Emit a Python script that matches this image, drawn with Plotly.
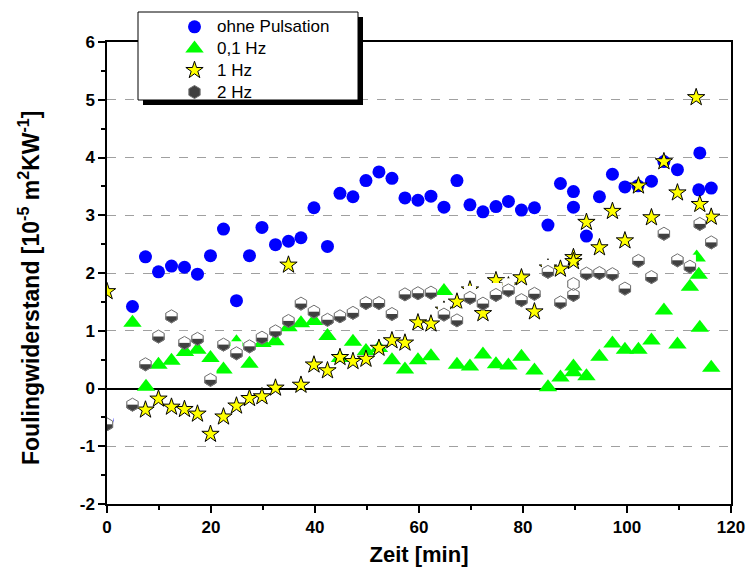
import plotly.graph_objects as go

# ---------------- data ----------------
x_ohne = [0, 4.9, 7.4, 9.9, 12.4, 14.9, 17.4, 19.9, 22.4, 24.9, 27.4, 29.8, 32.4, 34.9, 37.3, 39.8,
          42.4, 44.8, 47.3, 49.8, 52.3, 54.8, 57.3, 59.8, 62.3, 64.8, 67.3, 69.8, 72.3, 74.8, 77.2,
          79.7, 82.2, 84.8, 87.2, 89.7, 89.7, 92.2, 94.7, 97.2, 99.6, 102.1, 104.7, 107.1, 109.7,
          114.0, 113.8, 116.2]
y_ohne = [-0.55, 1.42, 2.28, 2.02, 2.12, 2.10, 1.98, 2.30, 2.76, 1.52, 2.30, 2.79, 2.49, 2.55, 2.61,
          3.13, 2.46, 3.38, 3.32, 3.60, 3.75, 3.64, 3.30, 3.26, 3.33, 3.14, 3.60, 3.18, 3.06, 3.15,
          3.24, 3.09, 3.13, 2.83, 3.55, 3.41, 3.14, 2.64, 3.32, 3.71, 3.49, 3.51, 3.59, 3.93, 3.79,
          4.08, 3.44, 3.47]

x_01 = [4.9, 7.5, 9.9, 12.4, 15.0, 17.4, 19.9, 22.4, 24.9, 27.4, 29.9, 32.4, 34.9, 37.3, 39.8, 42.4,
        44.8, 47.3, 49.8, 52.3, 54.8, 57.3, 59.8, 62.3, 64.8, 67.3, 69.8, 72.3, 74.8, 77.2, 79.7,
        82.2, 84.8, 87.2, 89.7, 89.7, 92.2, 94.7, 97.2, 99.6, 102.2, 104.7, 107.1, 109.7, 112.1,
        113.4, 113.8, 114.0, 116.2]
y_01 = [1.14, 0.03, 0.41, 0.48, 0.63, 0.67, 0.53, 0.33, 0.80, 0.43, 0.79, 0.82, 1.06, 1.13, 1.17, 0.91,
        0.53, 0.81, 0.65, 0.70, 0.49, 0.33, 0.49, 0.56, 1.69, 0.41, 0.38, 0.59, 0.42, 0.40, 0.55,
        0.31, 0.02, 0.19, 0.38, 0.28, 0.21, 0.55, 0.78, 0.67, 0.67, 0.83, 1.35, 0.76, 1.76,
        2.27, 1.97, 1.05, 0.36]

x_1 = [0, 7.4, 9.9, 12.4, 14.9, 17.4, 19.9, 22.4, 24.9, 27.4, 29.8, 32.4, 34.9, 37.3, 39.8, 42.4,
       44.8, 47.3, 49.8, 52.3, 54.8, 57.3, 59.8, 62.3, 64.8, 67.3, 69.8, 72.3, 74.8, 77.2, 79.7,
       82.2, 84.8, 87.2, 89.7, 89.7, 92.2, 94.7, 97.2, 99.6, 102.2, 104.7, 107.1, 109.7, 113.3,
       114.0, 116.2]
y_1 = [1.68, -0.37, -0.18, -0.32, -0.36, -0.44, -0.79, -0.49, -0.30, -0.17, -0.14, 0.01, 2.14, 0.06,
       0.41, 0.31, 0.54, 0.47, 0.51, 0.70, 0.83, 0.79, 1.14, 1.12, 1.36, 1.50, 1.71, 1.30, 1.87,
       1.78, 1.92, 1.33, 2.09, 2.07, 2.27, 2.20, 2.88, 2.44, 3.07, 2.56, 3.51, 2.96, 3.93, 3.39,
       5.04, 3.19, 2.97]

x_2 = [0, 4.9, 7.4, 9.9, 12.4, 14.9, 17.4, 19.9, 22.4, 24.9, 27.4, 29.8, 32.4, 34.9, 37.3, 39.8,
       42.4, 44.8, 47.3, 49.8, 52.3, 54.8, 57.3, 59.8, 62.3, 64.8, 67.3, 69.8, 72.3, 74.8, 77.2,
       79.7, 82.2, 84.8, 87.2, 89.7, 89.7, 92.2, 94.7, 97.2, 99.6, 102.2, 104.7, 107.1, 109.7,
       112.1, 114.0, 116.2]
y_2 = [-0.62, -0.28, 0.42, 0.90, 1.25, 0.79, 0.86, 0.15, 0.76, 0.61, 0.73, 0.88, 0.99, 1.17, 1.47,
       1.33, 1.19, 1.25, 1.31, 1.48, 1.48, 1.29, 1.63, 1.65, 1.66, 1.28, 1.18, 1.57, 1.47, 1.62,
       1.70, 1.53, 1.64, 2.02, 1.49, 1.81, 1.62, 1.99, 2.00, 1.98, 1.73, 2.21, 1.93, 2.68, 2.22,
       2.11, 2.85, 2.53]

names = ["ohne Pulsation", "0,1 Hz", "1 Hz", "2 Hz"]
x_ticks = [0, 20, 40, 60, 80, 100, 120]
y_ticks = [-2, -1, 0, 1, 2, 3, 4, 5, 6]
x_title = "Zeit [min]"
y_title = "Foulingwiderstand [10<sup>-5</sup> m<sup>2</sup>KW<sup>-1</sup>]"

FONT = "Arial, Liberation Sans, sans-serif"


def leg_name(s):
    return f'<span style="font-size:17px">{s}</span>'


fig = go.Figure()
fig.add_trace(go.Scatter(x=x_ohne, y=y_ohne, mode="markers", name=leg_name(names[0]),
                         marker=dict(symbol="circle", size=13, color="#0000ff", line=dict(width=0))))
fig.add_trace(go.Scatter(x=x_01, y=y_01, mode="markers", name=leg_name(names[1]),
                         marker=dict(symbol="triangle-up", size=16, color="#00ff00", line=dict(width=0))))
fig.add_trace(go.Scatter(x=x_1, y=y_1, mode="markers", name=leg_name(names[2]),
                         marker=dict(symbol="star", size=13, color="#ffff00",
                                     line=dict(width=1, color="#000000"))))
# half-filled hexagon: dark hexagon, white lower half, grey outline
fig.add_trace(go.Scatter(x=x_2, y=y_2, mode="markers", name=leg_name(names[3]), legendgroup="h",
                         marker=dict(symbol="hexagon", size=13, color="#404040",
                                     line=dict(width=1, color="#707070"))))
fig.add_trace(go.Scatter(x=x_2, y=y_2, mode="markers", showlegend=False, legendgroup="h",
                         hoverinfo="skip",
                         marker=dict(symbol="square", size=12, color="#ffffff", angle=180,
                                     standoff=6, line=dict(width=0))))
fig.add_trace(go.Scatter(x=x_2, y=y_2, mode="markers", showlegend=False, legendgroup="h",
                         hoverinfo="skip",
                         marker=dict(symbol="hexagon-open", size=13, color="#707070",
                                     line=dict(width=1, color="#707070"))))


def px2paper_x(p):
    return (p - 107) / 624.0


def px2paper_y(p):
    return (504 - p) / 462.0


# legend frame with shadow
fig.add_shape(type="rect", xref="paper", yref="paper", layer="above",
              x0=px2paper_x(143), x1=px2paper_x(363), y0=px2paper_y(105), y1=px2paper_y(17),
              fillcolor="#000000", line=dict(width=0))
fig.add_shape(type="rect", xref="paper", yref="paper", layer="above",
              x0=px2paper_x(138), x1=px2paper_x(358), y0=px2paper_y(100), y1=px2paper_y(12),
              fillcolor="#ffffff", line=dict(width=1, color="#000000"))

# y-axis title as rotated annotation
fig.add_annotation(text=f"<b>{y_title}</b>", xref="paper", yref="paper",
                   x=px2paper_x(29), y=px2paper_y(288), xanchor="center", yanchor="middle",
                   textangle=-90, showarrow=False, font=dict(size=23, family=FONT, color="black"))

fig.update_layout(
    template="none",
    width=746, height=574,
    margin=dict(l=107, r=15, t=42, b=70, autoexpand=False),
    paper_bgcolor="white", plot_bgcolor="white",
    font=dict(family=FONT, color="black"),
    showlegend=True,
    legend=dict(x=px2paper_x(144), y=px2paper_y(11), xanchor="left", yanchor="top",
                bgcolor="rgba(0,0,0,0)", borderwidth=0, font=dict(size=14.4, family=FONT),
                indentation=28, tracegroupgap=0, itemsizing="trace", itemwidth=35),
    xaxis=dict(range=[0, 120], tickvals=x_ticks, ticktext=[f"<b>{v}</b>" for v in x_ticks],
               automargin=False,
               showgrid=False, zeroline=False, showline=True, linecolor="black", linewidth=1.5,
               mirror=True, ticks="outside", ticklen=7, tickwidth=1.5, tickcolor="black",
               tickfont=dict(size=17, family=FONT),
               minor=dict(tickvals=[10, 30, 50, 70, 90, 110], ticks="outside", ticklen=4,
                          tickwidth=1.5, tickcolor="black"),
               title=dict(text=f"<b>{x_title}</b>", font=dict(size=22, family=FONT), standoff=10)),
    yaxis=dict(range=[-2, 6], tickvals=y_ticks, ticktext=[f"<b>{v}</b>" for v in y_ticks],
               automargin=False,
               showgrid=True, gridcolor="#a0a0a0", griddash="dash", gridwidth=1,
               zeroline=True, zerolinecolor="black", zerolinewidth=1.5,
               showline=True, linecolor="black", linewidth=1.5, mirror=True,
               ticks="outside", ticklen=7, tickwidth=1.5, tickcolor="black",
               tickfont=dict(size=17, family=FONT),
               minor=dict(dtick=0.5, ticks="outside", ticklen=4, tickwidth=1.5, tickcolor="black",
                          showgrid=False)),
)

fig.write_html("out.html")
